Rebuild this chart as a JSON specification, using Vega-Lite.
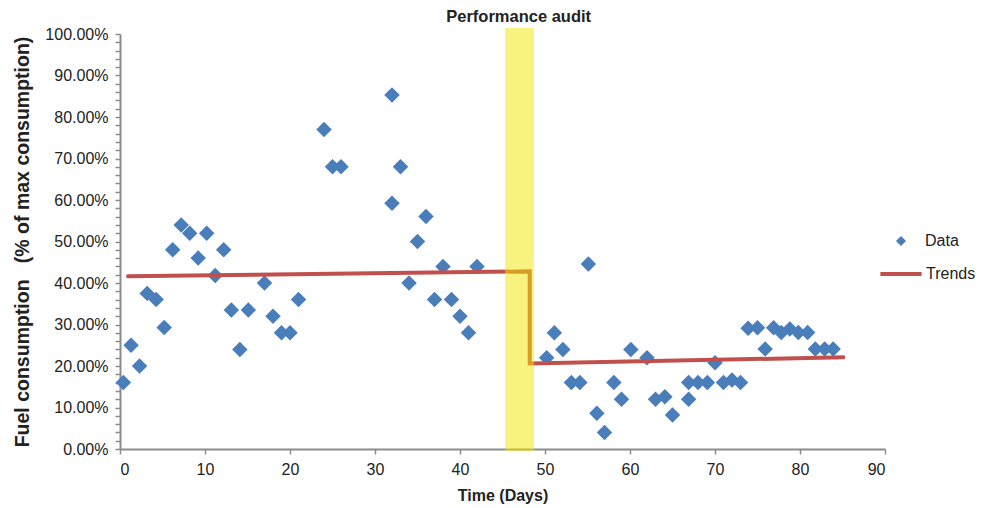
{
  "$schema": "https://vega.github.io/schema/vega-lite/v6.json",
  "width": 765,
  "height": 415,
  "autosize": "none",
  "padding": {"left": 120, "top": 34, "right": 101, "bottom": 59},
  "background": "white",
  "config": {
    "view": {"stroke": null},
    "font": "Liberation Sans",
    "axis": {
      "domainColor": "#8c8c8c",
      "tickColor": "#8c8c8c",
      "domainWidth": 2,
      "tickWidth": 1.5,
      "grid": false,
      "labelFont": "Liberation Sans",
      "labelColor": "#222222",
      "titleFont": "Liberation Sans",
      "titleColor": "#222222",
      "titleFontWeight": "bold",
      "labelOverlap": false
    }
  },
  "datasets": {
    "points": [
      {"day": 0.4, "value": 0.16, "series": "Data"},
      {"day": 1.3, "value": 0.25, "series": "Data"},
      {"day": 2.3, "value": 0.20, "series": "Data"},
      {"day": 3.2, "value": 0.375, "series": "Data"},
      {"day": 4.25, "value": 0.36, "series": "Data"},
      {"day": 5.2, "value": 0.293, "series": "Data"},
      {"day": 6.2, "value": 0.48, "series": "Data"},
      {"day": 7.2, "value": 0.54, "series": "Data"},
      {"day": 8.2, "value": 0.52, "series": "Data"},
      {"day": 9.2, "value": 0.46, "series": "Data"},
      {"day": 10.2, "value": 0.52, "series": "Data"},
      {"day": 11.2, "value": 0.418, "series": "Data"},
      {"day": 12.2, "value": 0.48, "series": "Data"},
      {"day": 13.1, "value": 0.335, "series": "Data"},
      {"day": 14.1, "value": 0.24, "series": "Data"},
      {"day": 15.1, "value": 0.335, "series": "Data"},
      {"day": 17, "value": 0.40, "series": "Data"},
      {"day": 18, "value": 0.32, "series": "Data"},
      {"day": 19, "value": 0.28, "series": "Data"},
      {"day": 20, "value": 0.28, "series": "Data"},
      {"day": 21, "value": 0.36, "series": "Data"},
      {"day": 24, "value": 0.77, "series": "Data"},
      {"day": 25, "value": 0.68, "series": "Data"},
      {"day": 26, "value": 0.68, "series": "Data"},
      {"day": 32, "value": 0.853, "series": "Data"},
      {"day": 32, "value": 0.592, "series": "Data"},
      {"day": 33, "value": 0.68, "series": "Data"},
      {"day": 34, "value": 0.40, "series": "Data"},
      {"day": 35, "value": 0.50, "series": "Data"},
      {"day": 36, "value": 0.56, "series": "Data"},
      {"day": 37, "value": 0.36, "series": "Data"},
      {"day": 38, "value": 0.44, "series": "Data"},
      {"day": 39, "value": 0.36, "series": "Data"},
      {"day": 40, "value": 0.32, "series": "Data"},
      {"day": 41, "value": 0.28, "series": "Data"},
      {"day": 42, "value": 0.44, "series": "Data"},
      {"day": 50.2, "value": 0.22, "series": "Data"},
      {"day": 51.1, "value": 0.28, "series": "Data"},
      {"day": 52.1, "value": 0.24, "series": "Data"},
      {"day": 53.1, "value": 0.16, "series": "Data"},
      {"day": 54.1, "value": 0.16, "series": "Data"},
      {"day": 55.1, "value": 0.446, "series": "Data"},
      {"day": 56.1, "value": 0.086, "series": "Data"},
      {"day": 57, "value": 0.04, "series": "Data"},
      {"day": 58.1, "value": 0.16, "series": "Data"},
      {"day": 59, "value": 0.12, "series": "Data"},
      {"day": 60.1, "value": 0.24, "series": "Data"},
      {"day": 62, "value": 0.22, "series": "Data"},
      {"day": 63, "value": 0.12, "series": "Data"},
      {"day": 64.1, "value": 0.126, "series": "Data"},
      {"day": 65, "value": 0.082, "series": "Data"},
      {"day": 66.9, "value": 0.16, "series": "Data"},
      {"day": 66.9, "value": 0.12, "series": "Data"},
      {"day": 68, "value": 0.16, "series": "Data"},
      {"day": 69.1, "value": 0.16, "series": "Data"},
      {"day": 70, "value": 0.208, "series": "Data"},
      {"day": 71, "value": 0.16, "series": "Data"},
      {"day": 72, "value": 0.166, "series": "Data"},
      {"day": 73, "value": 0.16, "series": "Data"},
      {"day": 73.9, "value": 0.291, "series": "Data"},
      {"day": 75, "value": 0.292, "series": "Data"},
      {"day": 75.9, "value": 0.241, "series": "Data"},
      {"day": 76.9, "value": 0.292, "series": "Data"},
      {"day": 77.8, "value": 0.281, "series": "Data"},
      {"day": 78.8, "value": 0.289, "series": "Data"},
      {"day": 79.8, "value": 0.281, "series": "Data"},
      {"day": 80.9, "value": 0.281, "series": "Data"},
      {"day": 81.8, "value": 0.241, "series": "Data"},
      {"day": 82.9, "value": 0.241, "series": "Data"},
      {"day": 83.9, "value": 0.241, "series": "Data"}
    ],
    "trend": [
      {"order": 1, "day": 0.95, "value": 0.416, "series": "Trends"},
      {"order": 2, "day": 48.2, "value": 0.428, "series": "Trends"},
      {"order": 3, "day": 48.2, "value": 0.206, "series": "Trends"},
      {"order": 4, "day": 85.1, "value": 0.221, "series": "Trends"}
    ],
    "audit": [
      {"label": "Performance audit", "start": 45.3, "end": 48.7, "mid": 46.9}
    ]
  },
  "layer": [
    {
      "data": {"name": "points"},
      "mark": {"type": "point", "shape": "diamond", "filled": true, "size": 240, "opacity": 1},
      "encoding": {
        "x": {
          "field": "day", "type": "quantitative",
          "scale": {"domain": [0, 90], "nice": false, "zero": false},
          "axis": {
            "title": "Time (Days)",
            "values": [0, 10, 20, 30, 40, 50, 60, 70, 80, 90],
            "tickCount": 20,
            "labelFontSize": 16,
            "labelPadding": 7,
            "tickSize": 5,
            "titleFontSize": 16,
            "titlePadding": 10,
            "encoding": {"ticks": {"enter": {"y": {"value": -4}}, "update": {"y": {"value": -4}}}}
          }
        },
        "y": {
          "field": "value", "type": "quantitative",
          "scale": {"domain": [0, 1], "nice": false},
          "axis": {
            "title": "Fuel consumption \u00a0 (% of max consumption)",
            "values": [0,0.02,0.04,0.06,0.08,0.1,0.12,0.14,0.16,0.18,0.2,0.22,0.24,0.26,0.28,0.3,0.32,0.34,0.36,0.38,0.4,0.42,0.44,0.46,0.48,0.5,0.52,0.54,0.56,0.58,0.6,0.62,0.64,0.66,0.68,0.7,0.72,0.74,0.76,0.78,0.8,0.82,0.84,0.86,0.88,0.9,0.92,0.94,0.96,0.98,1],
            "tickCount": 60,
            "labelExpr": "abs(round(datum.value*100) % 10) == 0 ? format(datum.value, '.2%') : ''",
            "labelFontSize": 16,
            "labelPadding": 7,
            "tickSize": 5,
            "titleFontSize": 19.5,
            "titlePadding": 12,
            "encoding": {"ticks": {"enter": {"x": {"value": 4}}, "update": {"x": {"value": 4}}}}
          }
        },
        "color": {
          "field": "series", "type": "nominal",
          "scale": {"domain": ["Data"], "range": ["#4a7ebb"]},
          "legend": {
            "title": null,
            "orient": "none",
            "legendX": 773,
            "legendY": 199,
            "padding": 0,
            "symbolType": "diamond",
            "symbolSize": 100,
            "labelFontSize": 16,
            "labelColor": "#222222",
            "labelOffset": 16
          }
        }
      }
    },
    {
      "data": {"name": "trend"},
      "mark": {"type": "line", "strokeWidth": 4, "strokeCap": "round"},
      "encoding": {
        "x": {"field": "day", "type": "quantitative"},
        "y": {"field": "value", "type": "quantitative"},
        "order": {"field": "order"},
        "color": {
          "field": "series", "type": "nominal",
          "scale": {"domain": ["Trends"], "range": ["#c0504d"]},
          "legend": {
            "title": null,
            "orient": "none",
            "legendX": 758,
            "legendY": 217,
            "padding": 0,
            "symbolType": "stroke",
            "symbolSize": 1700,
            "symbolStrokeWidth": 4,
            "labelFontSize": 16,
            "labelColor": "#222222",
            "labelOffset": 2
          }
        }
      }
    },
    {
      "data": {"name": "audit"},
      "mark": {"type": "rect", "color": "#f2e800", "opacity": 0.5},
      "encoding": {
        "x": {"field": "start", "type": "quantitative"},
        "x2": {"field": "end"},
        "y": {"datum": -0.005, "type": "quantitative"},
        "y2": {"datum": 1.0145}
      }
    },
    {
      "data": {"name": "audit"},
      "mark": {"type": "text", "fontSize": 16.5, "fontWeight": "bold", "color": "#222222", "baseline": "middle", "align": "center"},
      "encoding": {
        "x": {"field": "mid", "type": "quantitative"},
        "y": {"datum": 1.041, "type": "quantitative"},
        "text": {"field": "label"}
      }
    }
  ],
  "resolve": {"scale": {"color": "independent"}, "legend": {"color": "independent"}}
}
